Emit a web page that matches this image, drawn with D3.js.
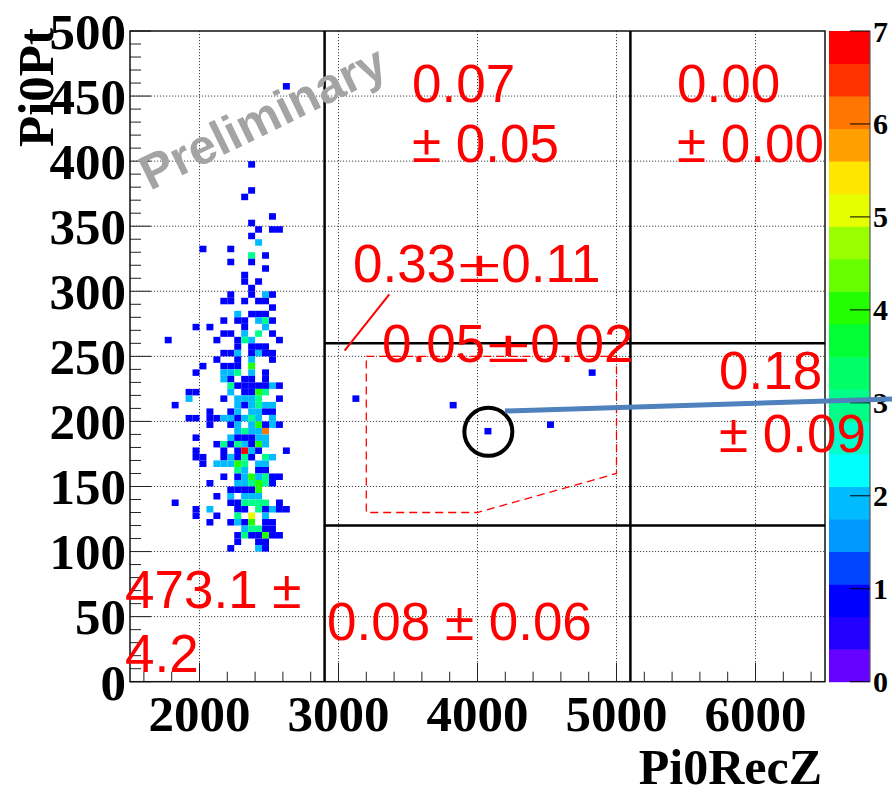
<!DOCTYPE html>
<html><head><meta charset="utf-8">
<script src="https://cdn.jsdelivr.net/npm/d3@7"></script>
<style>body{margin:0;background:#fff}svg{display:block}</style>
</head><body>
<script>
// Pi0Pt vs Pi0RecZ, 2D histogram (50 x 5 bins), colour scale 0..7
const xDomain = [1500, 6500];
const yDomain = [0, 500];
const zDomain = [0, 7];
const binW = 50, binH = 5;

// filled bins, one row of Pi0Pt per entry: lower Pi0Pt edge, lower Pi0RecZ edges, counts
const rowPt = [455, 395, 375, 370, 355, 350, 345, 340, 335, 330, 325, 320, 315, 310, 305, 300,
  295, 290, 285, 280, 275, 270, 265, 260, 255, 250, 245, 240, 235, 230, 225, 220, 215, 210, 205,
  200, 195, 190, 185, 180, 175, 170, 165, 160, 155, 150, 145, 140, 135, 130, 125, 120, 115, 110,
  105, 100,
  235, 215, 210, 195, 190];
const rowRecZ = [
  [2600], [2350], [2350], [2300], [2500], [2350], [2400,2500,2550], [2350], [2400], [2000,2200],
  [2350,2450], [2200,2350], [2450], [2300], [2300,2400], [2350],
  [2200,2350,2450,2500],
  [2150,2200,2300,2400,2450],
  [2500],
  [2250,2350,2400,2450],
  [2150,2250,2300,2400,2450,2500],
  [1950,2050,2300,2450],
  [2150,2200,2300,2400,2500],
  [1750,2100,2250,2300,2350,2550],
  [2250,2350,2400,2450],
  [2150,2200,2250,2350,2400,2450,2500],
  [2100,2250,2350,2500],
  [2000,2150,2200,2250,2350],
  [1950,2150,2200,2250,2350,2450],
  [2150,2200,2300,2350,2450],
  [2200,2250,2300,2350,2400,2450,2500,2550],
  [1900,1950,2200,2300,2350,2400,2450],
  [1900,2150,2250,2300,2350,2400,2550],
  [1800,2250,2300,2350,2400,2450,2500],
  [2050,2200,2250,2350,2400,2450,2500],
  [1900,1950,2050,2100,2150,2200,2250,2300,2350,2400,2500],
  [2050,2200,2250,2350,2400,2450,2500,2550],
  [2250,2300,2350,2400,2450],
  [1950,2200,2250,2300,2350,2400,2450],
  [2100,2150,2200,2250,2300,2350,2400,2450],
  [1950,2150,2250,2300,2350,2400,2600],
  [1950,2000,2150,2200,2250,2300,2350,2450,2500],
  [2000,2100,2150,2200,2250,2300,2400,2450],
  [2250,2300,2400,2450],
  [2150,2250,2300,2350,2400,2450,2500,2550],
  [2050,2250,2300,2350,2400,2450,2500],
  [2200,2250,2300,2350,2400],
  [2100,2200,2300,2350,2400],
  [1800,2200,2250,2300,2350,2400,2450,2550],
  [1950,2050,2250,2300,2400,2450,2500,2550,2600],
  [1950,2100,2250,2350,2450],
  [2050,2200,2250,2300,2350,2450,2500],
  [2300,2350,2400,2450,2500],
  [2250,2300,2350,2400,2450,2500,2550],
  [2250,2400,2450],
  [2200,2400,2450],
  [4800], [3100], [3800], [4500], [4050]];
const rowCount = [
  [1], [1], [1], [1], [1], [1], [1,1,1], [1], [2], [1,1],
  [3,1], [1,1], [1], [1], [1,1], [1],
  [1,1,2,1],
  [1,1,1,1,1],
  [1],
  [2,1,1,1],
  [1,1,1,2,3,1],
  [1,1,1,2],
  [1,1,2,3,1],
  [1,1,1,3,2,1],
  [1,1,1,1],
  [1,1,2,1,2,1,1],
  [1,1,2,1],
  [1,1,1,1,4],
  [1,2,2,3,2,1],
  [2,1,1,1,1],
  [3,1,1,1,1,1,2,1],
  [1,1,2,1,1,4,3],
  [2,1,2,2,2,3,1],
  [1,2,1,2,3,2,2],
  [1,1,2,2,2,1,1],
  [1,1,1,1,2,2,1,2,3,2,2],
  [1,1,2,2,4,1,2,1],
  [2,3,2,2,6],
  [1,2,1,1,1,2,2],
  [1,3,1,3,2,1,4,2],
  [1,1,1,7,2,1,1],
  [1,1,1,2,1,3,1,3,2],
  [1,2,2,2,4,3,2,2],
  [3,2,1,1],
  [1,1,2,4,2,3,1,1],
  [1,2,2,3,4,3,1],
  [1,1,1,1,4],
  [1,2,2,2,2],
  [1,1,1,3,3,3,3,1],
  [1,2,1,1,3,1,2,1,1],
  [1,1,3,5,2],
  [1,1,2,1,4,1,1],
  [2,3,3,1,1],
  [1,3,1,1,4,1,1],
  [1,1,1],
  [1,2,1],
  [1], [1], [1], [1], [1]];

const xTicks = [2000, 3000, 4000, 5000, 6000];
const yTicks = [0, 50, 100, 150, 200, 250, 300, 350, 400, 450, 500];
const zTicks = [0, 1, 2, 3, 4, 5, 6, 7];

// 20-level rainbow palette, lowest level first
const palette = ["#6600ff","#2200ff","#0000ff","#0044ff","#0099ff","#00bbff","#00ffff","#00ffcc",
  "#00ff88","#00ff66","#00ff33","#22ff00","#66ff00","#99ff00","#e6ff00","#ffe600","#ffa000",
  "#ff7700","#ff3300","#ff0000"];

// selection cuts and signal region outline
const cutX = [2900, 5100];
const cutY = [120, 260];
const signalRegion = [[3200,250],[5000,250],[5000,160],[4000,130],[3200,130]];

const W = 892, H = 795;
const L = 130, R = 825, T = 31, B = 681.7;
const x = d3.scaleLinear().domain(xDomain).range([L, R]);
const y = d3.scaleLinear().domain(yDomain).range([B, T]);
const z = d3.scaleLinear().domain(zDomain).range([B, T]);
const colorOf = n => palette[Math.max(0, Math.min(palette.length - 1,
  Math.floor(n / zDomain[1] * palette.length)))];

const svg = d3.select("body").append("svg").attr("width", W).attr("height", H)
  .style("background", "#fff");

const serif = "'Liberation Serif','Times New Roman',serif";
const sans = "'Liberation Sans',Arial,Helvetica,sans-serif";

// grid
const grid = svg.append("g").attr("stroke", "#444").attr("stroke-width", 1)
  .attr("stroke-dasharray", "1.2,1.8");
grid.selectAll("line.gx").data(xTicks).join("line")
  .attr("x1", d => x(d)).attr("x2", d => x(d)).attr("y1", T).attr("y2", B);
grid.selectAll("line.gy").data(yTicks.slice(1, -1)).join("line")
  .attr("y1", d => y(d)).attr("y2", d => y(d)).attr("x1", L).attr("x2", R);

// histogram cells
const cells = rowPt.flatMap((py, r) => rowRecZ[r].map((bx, k) => ({x: bx, y: py, n: rowCount[r][k]})));
svg.append("g").selectAll("rect").data(cells).join("rect")
  .attr("x", d => x(d.x)).attr("y", d => y(d.y + binH))
  .attr("width", d => x(d.x + binW) - x(d.x))
  .attr("height", d => y(d.y) - y(d.y + binH))
  .attr("fill", d => colorOf(d.n));

// axis ticks
const ax = svg.append("g");
ax.selectAll("line.xt").data(d3.range(1600, 6500, 200)).join("line")
  .attr("x1", d => x(d)).attr("x2", d => x(d)).attr("y1", B)
  .attr("y2", d => B - (d % 1000 === 0 ? 19 : 10)).attr("stroke", "#222");
ax.selectAll("line.yt").data(d3.range(0, 501, 10)).join("line")
  .attr("y1", d => y(d)).attr("y2", d => y(d)).attr("x1", L)
  .attr("x2", d => L + (d % 50 === 0 ? 21 : 11)).attr("stroke", "#222");

svg.append("rect").attr("x", L).attr("y", T).attr("width", R - L).attr("height", B - T)
  .attr("fill", "none").attr("stroke", "#111").attr("stroke-width", 1.5);

svg.append("g").selectAll("text").data(xTicks).join("text")
  .attr("x", d => x(d)).attr("y", 731).attr("text-anchor", "middle")
  .attr("font-family", serif).attr("font-weight", "bold").attr("font-size", 51)
  .text(d => d);
svg.append("g").selectAll("text").data(yTicks).join("text")
  .attr("x", 126).attr("y", d => y(d)).attr("dy", "0.35em").attr("text-anchor", "end")
  .attr("font-family", serif).attr("font-weight", "bold").attr("font-size", 51)
  .text(d => d);

svg.append("text").attr("x", 822).attr("y", 784).attr("text-anchor", "end")
  .attr("font-family", serif).attr("font-weight", "bold").attr("font-size", 50).text("Pi0RecZ");
svg.append("text").attr("transform", "translate(53,28) rotate(-90)").attr("text-anchor", "end")
  .attr("font-family", serif).attr("font-weight", "bold").attr("font-size", 51).text("Pi0Pt");

// cut lines
const cuts = svg.append("g").attr("stroke", "#000").attr("stroke-width", 2.5);
cuts.selectAll("line.cx").data(cutX).join("line")
  .attr("x1", d => x(d)).attr("x2", d => x(d)).attr("y1", T).attr("y2", B);
cuts.selectAll("line.cy").data(cutY).join("line")
  .attr("y1", d => y(d)).attr("y2", d => y(d)).attr("x1", x(cutX[0])).attr("x2", R);

// signal region outline
svg.append("path").datum(signalRegion)
  .attr("d", d3.line().x(d => x(d[0])).y(d => y(d[1])).curve(d3.curveLinearClosed))
  .attr("fill", "none").attr("stroke", "#ff0000").attr("stroke-width", 1.3)
  .attr("stroke-dasharray", "8,5");

// colour bar
const zb = svg.append("g");
const zx0 = 829, zx1 = 870;
zb.selectAll("rect").data(palette).join("rect")
  .attr("x", zx0).attr("width", zx1 - zx0)
  .attr("y", (c, i) => z((i + 1) * zDomain[1] / palette.length))
  .attr("height", z(0) - z(zDomain[1] / palette.length) + 0.5)
  .attr("fill", c => c);
zb.append("line").attr("x1", zx1).attr("x2", zx1).attr("y1", T).attr("y2", B)
  .attr("stroke", "#555").attr("stroke-width", 1.2);
zb.selectAll("line.zt").data(zTicks).join("line")
  .attr("x1", zx1 - 20).attr("x2", zx1).attr("y1", d => z(d)).attr("y2", d => z(d))
  .attr("stroke", "#000");
zb.selectAll("text").data(zTicks).join("text")
  .attr("x", 873).attr("y", d => z(d)).attr("dy", "0.35em")
  .attr("font-family", serif).attr("font-weight", "bold").attr("font-size", 30)
  .text(d => d);

// watermark
svg.append("text").attr("transform", "translate(150,191) rotate(-26)")
  .attr("font-family", sans).attr("font-weight", "bold").attr("font-size", 49)
  .attr("fill", "#a4a4a4").text("Preliminary");

// yields per region
const fs = 53;
const labels = [
  ["0.07", 412, 101.7], ["± 0.05", 412, 161.7],
  ["0.00", 677, 101.7], ["± 0.00", 677, 161.7],
  ["0.18", 719, 389], ["± 0.09", 719, 451.7],
  ["0.08 ± 0.06", 327, 640],
  ["473.1 ±", 125, 608], ["4.2", 125, 671.7]
];
// value±error written with a wide, flattened ± sign
const tightLabels = [["0.33", "0.11", 353, 281.7], ["0.05", "0.02", 382, 361.7]];

svg.append("line").attr("x1", 344.6).attr("y1", 350.7).attr("x2", 389.3).attr("y2", 294.3)
  .attr("stroke", "#ff0000").attr("stroke-width", 2);
const lab = svg.append("g").attr("font-family", sans).attr("font-size", fs).attr("fill", "#ff0000");
lab.selectAll("text").data(labels).join("text")
  .attr("x", d => d[1]).attr("y", d => d[2]).text(d => d[0]);
tightLabels.forEach(([a, b, px, py]) => {
  const t1 = lab.append("text").attr("x", px).attr("y", py).text(a);
  const w1 = t1.node().getComputedTextLength();
  const sx = 1.45, sy = 0.85;
  const pm = lab.append("text").attr("transform", `translate(${px + w1 + 2},${py}) scale(${sx},${sy})`)
    .text("±");
  const w2 = pm.node().getComputedTextLength() * sx;
  lab.append("text").attr("x", px + w1 + 2 + w2 + 1).attr("y", py).text(b);
});

// highlighted candidate
svg.append("circle").attr("cx", x(4078)).attr("cy", y(192)).attr("r", 24)
  .attr("fill", "none").attr("stroke", "#000").attr("stroke-width", 4);
svg.append("line").attr("x1", 505).attr("y1", 411).attr("x2", 892).attr("y2", 399)
  .attr("stroke", "#4f81bd").attr("stroke-width", 5);
</script>
</body></html>
